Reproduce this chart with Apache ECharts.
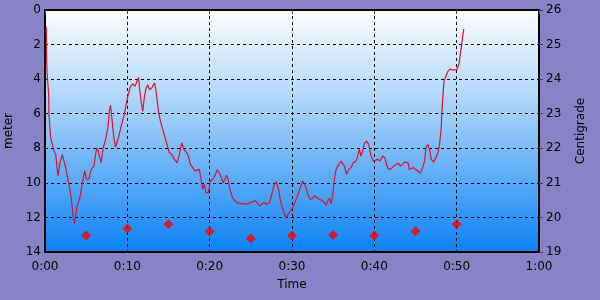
<!DOCTYPE html>
<html><head><meta charset="utf-8">
<script src="https://cdn.jsdelivr.net/npm/echarts@6/dist/echarts.min.js"></script>
<style>html,body{margin:0;padding:0;background:#8882c6}#c{width:600px;height:300px}</style>
</head><body><div id="c"></div>
<script>
// Dive profile: time in minutes, depth in meters
const depthTime = [0.15,0.2,0.28,0.45,0.48,0.69,1.09,1.3,1.58,1.82,2.1,2.51,2.91,3.18,3.43,3.6,3.76,3.92,4.24,4.52,4.81,5.05,5.33,5.61,5.94,6.27,6.46,6.82,7.07,7.36,7.64,7.84,7.96,8.16,8.36,8.57,8.76,8.97,9.25,9.58,9.74,9.9,10.06,
10.38,10.67,10.95,11.15,11.36,11.48,11.67,11.88,12.08,12.28,12.48,12.69,12.97,13.3,13.49,13.78,14.02,14.3,14.58,14.82,15.11,15.39,15.72,16.04,16.33,16.61,16.85,17.13,17.42,17.66,17.94,18.22,18.46,18.75,18.95,19.15,19.36,19.55,19.84,20.08,20.36,
20.63,20.91,21.15,21.43,21.64,21.85,22.04,22.24,22.45,22.77,23.05,23.33,23.66,23.98,24.27,24.55,24.88,25.2,25.48,25.76,26.08,26.28,26.57,26.89,27.27,27.55,27.84,28.08,28.36,28.64,28.97,29.3,29.45,29.7,29.98,30.27,30.59,30.91,31.15,
31.31,31.64,31.92,32.2,32.52,32.73,33.01,33.33,33.66,33.94,34.14,34.34,34.55,34.75,34.95,35.15,35.36,35.56,35.76,35.96,36.16,36.36,36.64,36.89,37.17,37.45,37.78,37.98,38.18,38.38,38.58,38.79,39.07,39.31,39.6,39.88,40.12,40.4,40.69,41.01,41.3,
41.53,41.73,42.06,42.34,42.63,42.95,43.15,43.43,43.67,43.84,44.08,44.24,44.48,44.77,45.05,45.3,45.58,45.86,46.1,46.27,46.51,46.71,46.91,47.19,47.48,47.72,47.92,48.12,48.2,48.33,48.45,48.69,48.93,49.21,49.49,49.73,50.02,50.22,50.3,50.46,50.63,50.75,50.87];
const depthMeters = [0.96,2.98,3.84,4.9,6.05,7.4,8.16,8.35,9.6,8.83,8.35,9.12,10.08,10.85,12.0,12.38,11.8,11.33,10.85,10.08,9.31,9.79,9.79,9.22,9.03,7.97,8.16,8.83,7.97,7.49,6.82,5.76,5.51,6.43,7.39,7.93,7.93,7.3,6.72,6.14,6.05,5.37,4.99,
4.42,4.28,4.42,4.13,3.9,4.51,5.28,5.86,4.99,4.51,4.32,4.61,4.51,4.22,4.7,5.86,6.43,6.91,7.39,7.78,8.26,8.35,8.64,8.83,8.35,7.68,8.06,8.2,8.45,8.93,9.12,9.31,9.22,9.22,9.79,10.37,10.08,10.56,10.56,9.89,9.79,
9.6,9.25,9.41,9.7,9.99,9.79,9.56,9.79,10.37,10.85,11.04,11.14,11.18,11.23,11.19,11.25,11.14,11.1,11.04,11.14,11.33,11.23,11.14,11.23,11.14,10.66,10.08,9.95,10.37,11.14,11.62,12.06,11.87,11.71,11.52,11.23,10.85,10.4,10.1,
9.89,10.18,10.66,10.95,10.9,10.75,10.85,10.95,11.04,11.14,11.29,11.04,10.9,11.23,10.66,9.79,9.22,9.03,9.12,8.74,8.64,9.03,9.5,9.22,9.12,8.83,8.74,8.45,8.06,8.45,8.16,7.72,7.58,7.78,8.45,8.74,8.74,8.64,8.74,8.45,8.55,
9.03,9.22,9.18,9.03,8.93,8.87,9.03,8.93,8.8,8.74,8.83,9.22,9.18,9.12,9.25,9.31,9.45,9.12,8.74,7.97,7.78,8.06,8.64,8.8,8.55,8.26,7.78,6.91,5.95,4.99,4.13,3.84,3.55,3.42,3.46,3.36,3.46,3.36,3.07,2.5,1.92,1.44,1.11];
// Water temperature samples
const tempTime = [5,10,15,20,25,30,35,40,45,50];
const tempValues = [19.48,19.68,19.8,19.59,19.39,19.48,19.49,19.48,19.6,19.8];

const depthData = depthTime.map((t,i)=>[t, depthMeters[i]]);
const tempData = tempTime.map((t,i)=>[t, tempValues[i]]);
const fmtTime = v => Math.floor(v/60)+':'+String(Math.round(v%60)).padStart(2,'0');

const FONT = 'DejaVu Sans';
const labelStyle = {color:'#000', fontFamily:FONT, fontSize:12};
const chart = echarts.init(document.getElementById('c'), null, {renderer:'canvas'});
chart.setOption({
  animation:false,
  backgroundColor:'#8882c6',
  grid:{left:45,right:61,top:10,bottom:48,show:true,borderColor:'#000',borderWidth:2,
    outerBoundsMode:'none',containLabel:false,
    backgroundColor:new echarts.graphic.LinearGradient(0,0,0,1,[{offset:0,color:'#ffffff'},{offset:0.45,color:'#9cccf8'},{offset:1,color:'#0a82f6'}])},
  xAxis:{type:'value',min:0,max:60,interval:10,name:'Time',nameLocation:'middle',nameGap:27,
    nameTextStyle:labelStyle,
    axisLabel:Object.assign({formatter:fmtTime,margin:9},labelStyle),
    axisLine:{show:false},axisTick:{show:true,length:4,lineStyle:{color:'#444'}},
    splitLine:{show:true,lineStyle:{color:'#000',type:[3,3],width:1}}},
  yAxis:[
    {type:'value',inverse:true,min:0,max:14,interval:2,name:'meter',nameLocation:'middle',nameGap:28,
     nameTextStyle:labelStyle,axisLabel:Object.assign({margin:4},labelStyle),
     axisLine:{show:false},axisTick:{show:false},
     splitLine:{show:true,lineStyle:{color:'#000',type:[3,3],width:1}}},
    {type:'value',min:19,max:26,interval:1,name:'Centigrade',nameLocation:'middle',nameGap:36,nameRotate:90,
     nameTextStyle:labelStyle,axisLabel:Object.assign({margin:7},labelStyle),
     axisLine:{show:false},axisTick:{show:true,length:4,lineStyle:{color:'#444'}},splitLine:{show:false}}
  ],
  series:[
    {type:'line',yAxisIndex:0,data:depthData,showSymbol:false,symbol:'none',
     lineStyle:{color:'#e0102a',width:1.2},itemStyle:{color:'#e0102a'}},
    {type:'scatter',yAxisIndex:1,data:tempData,symbol:'diamond',symbolSize:10,
     itemStyle:{color:'#ff0000'}}
  ]
});
</script></body></html>
